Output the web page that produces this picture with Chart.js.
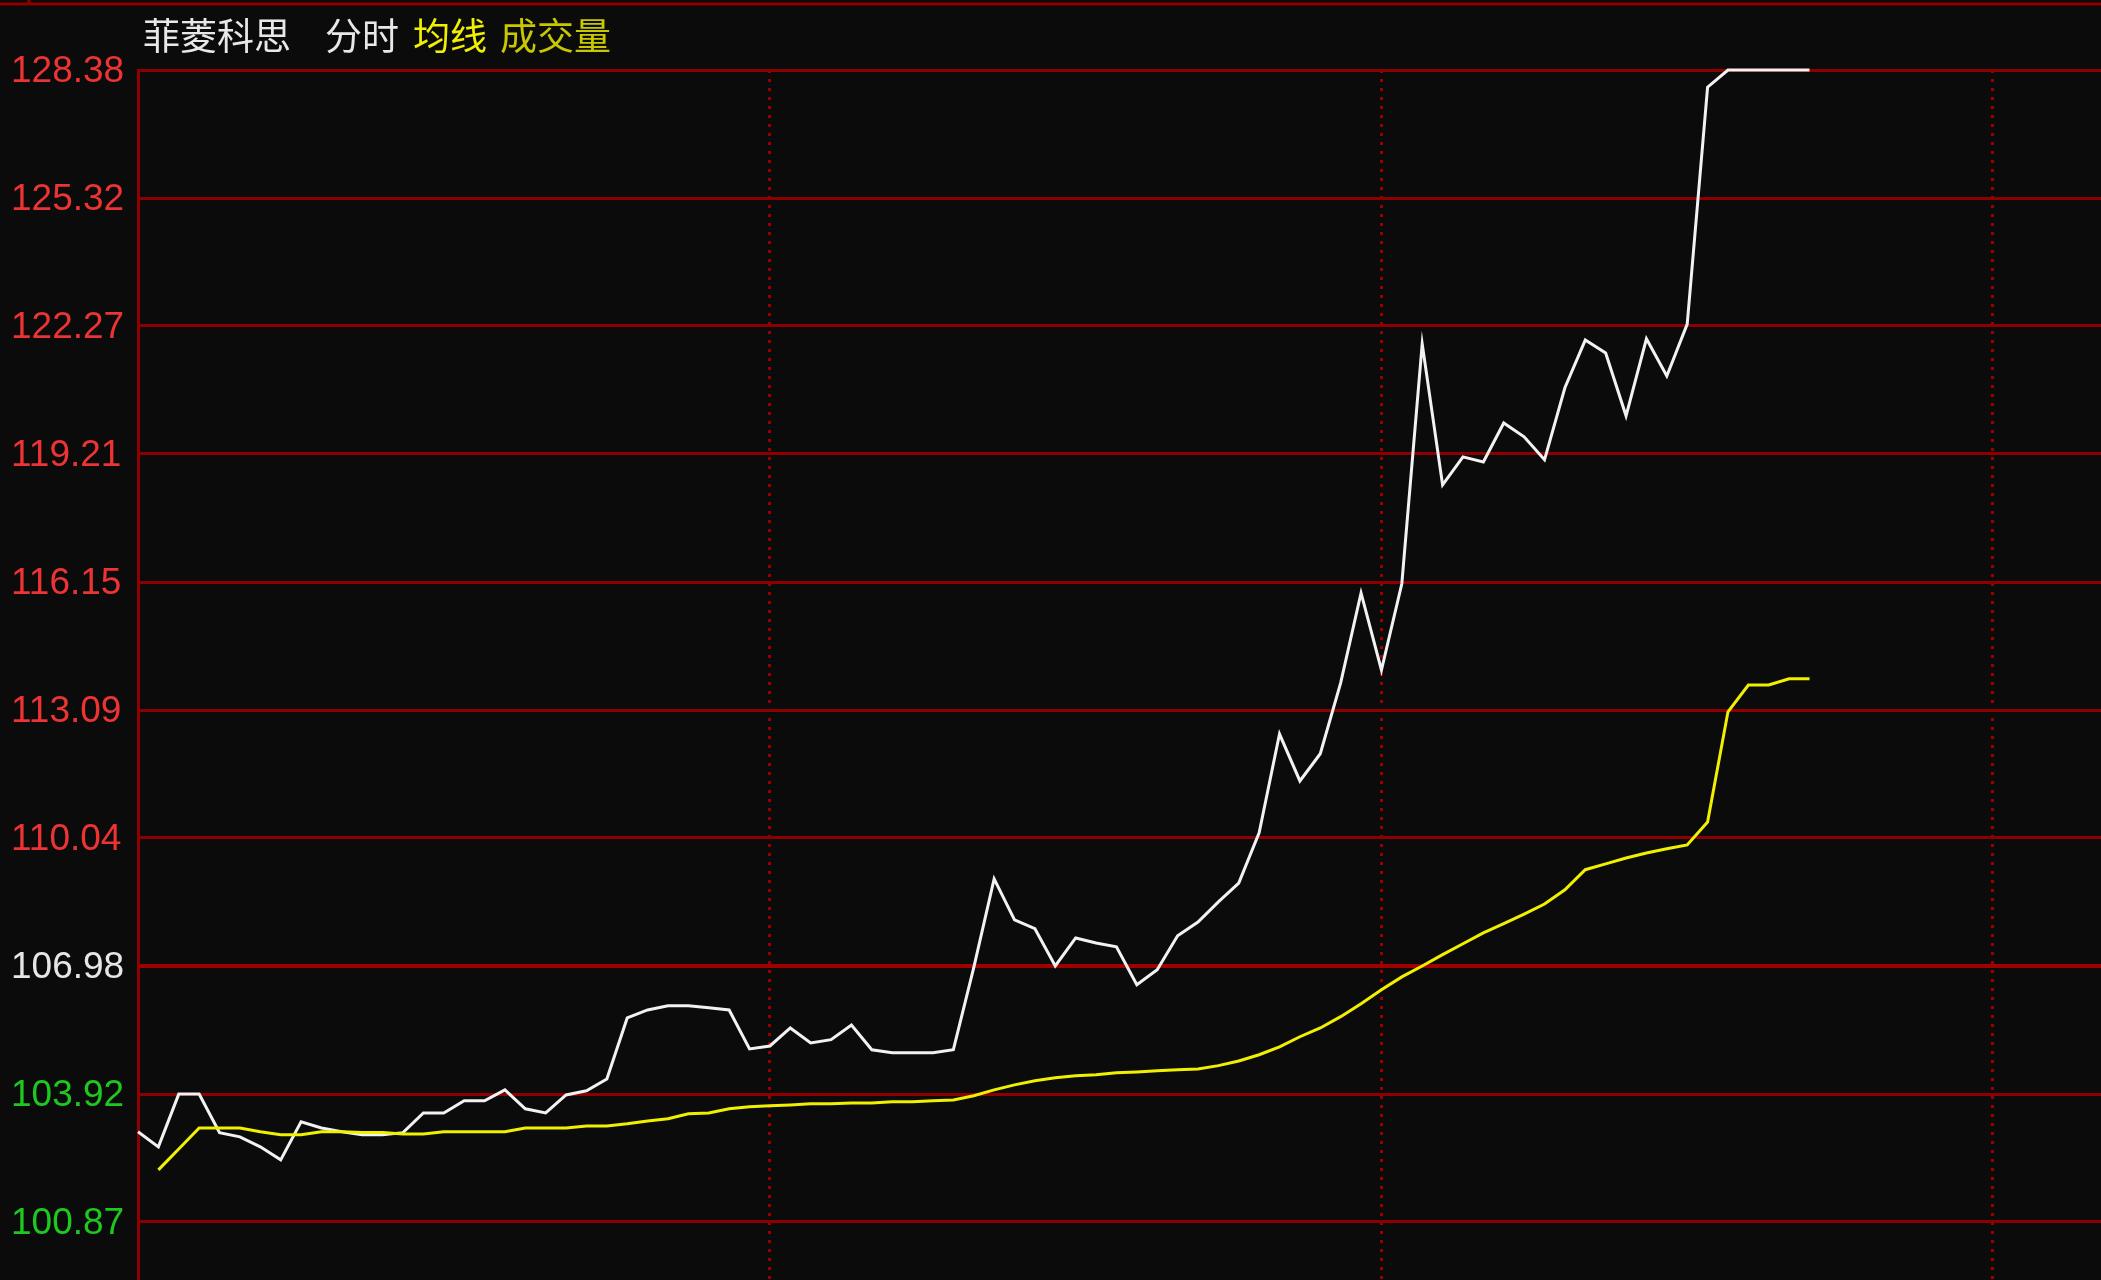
<!DOCTYPE html>
<html>
<head>
<meta charset="utf-8">
<script src="https://cdn.jsdelivr.net/npm/chart.js"></script>
<style>
  html, body { margin: 0; padding: 0; background: #0b0b0b; overflow: hidden; }
  canvas { display: block; }
</style>
</head>
<body>
<canvas id="grafico-fenshi" width="2101" height="1280"></canvas>
<script>
// prezzo minuto per minuto (linea bianca)
var priceSeries = [103.02, 102.66, 103.92, 103.92, 103.00, 102.90, 102.66, 102.35, 103.26, 103.11,
  103.02, 102.95, 102.95, 103.00, 103.47, 103.47, 103.76, 103.76, 104.02, 103.57,
  103.47, 103.90, 104.00, 104.28, 105.74, 105.93, 106.03, 106.03, 105.98, 105.93,
  105.00, 105.07, 105.50, 105.14, 105.22, 105.57, 104.98, 104.91, 104.91, 104.91,
  104.98, 106.94, 109.06, 108.08, 107.87, 106.98, 107.65, 107.53, 107.44, 106.53,
  106.89, 107.70, 108.03, 108.51, 108.96, 110.16, 112.52, 111.40, 112.05, 113.74,
  115.89, 114.05, 116.11, 121.84, 118.47, 119.14, 119.02, 119.95, 119.62, 119.07,
  120.79, 121.93, 121.62, 120.12, 121.96, 121.07, 122.31, 127.97, 128.38, 128.38,
  128.38, 128.38, 128.38];

// prezzo medio (linea gialla)
var avgSeries = [null, 102.11, 102.61, 103.11, 103.11, 103.11, 103.02, 102.95, 102.95, 103.02,
  103.02, 103.00, 103.00, 102.97, 102.97, 103.02, 103.02, 103.02, 103.02, 103.11,
  103.11, 103.11, 103.16, 103.16, 103.21, 103.28, 103.33, 103.45, 103.47, 103.57,
  103.62, 103.64, 103.66, 103.69, 103.69, 103.71, 103.71, 103.74, 103.74, 103.76,
  103.78, 103.88, 104.02, 104.14, 104.24, 104.31, 104.36, 104.38, 104.43, 104.45,
  104.48, 104.50, 104.52, 104.60, 104.71, 104.86, 105.05, 105.29, 105.50, 105.77,
  106.08, 106.41, 106.72, 106.98, 107.25, 107.51, 107.77, 107.99, 108.22, 108.46,
  108.80, 109.28, 109.42, 109.56, 109.68, 109.78, 109.87, 110.42, 113.05, 113.69,
  113.69, 113.84, 113.84];

var yTickValues = [128.38, 125.32, 122.27, 119.21, 116.15, 113.09, 110.04, 106.98, 103.92, 100.87];
var yTickLabels = ['128.38', '125.32', '122.27', '119.21', '116.15', '113.09', '110.04', '106.98', '103.92', '100.87'];
var prevClose = 106.98;
var xGridTicks = [31, 61, 91];

var titleParts = ['菲菱科思', '分时', '均线', '成交量'];

var rosso = '#8e0000';

var sfondo = {
  id: 'sfondo',
  beforeDraw: function (chart) {
    var ctx = chart.ctx;
    ctx.save();
    ctx.fillStyle = '#0b0b0b';
    ctx.fillRect(0, 0, chart.width, chart.height);
    ctx.strokeStyle = rosso;
    ctx.lineWidth = 3;
    ctx.beginPath();
    ctx.moveTo(0, 4);
    ctx.lineTo(chart.width, 4);
    ctx.moveTo(29, 0);
    ctx.lineTo(29, 4);
    ctx.stroke();
    ctx.restore();
  },
  afterDraw: function (chart) {
    // intestazione in alto
    var ctx = chart.ctx;
    ctx.save();
    ctx.font = '37px "Noto Sans CJK SC"';
    ctx.textBaseline = 'middle';
    var xs = [143, 325, 413, 500];
    var colori = ['#e8e8e8', '#e8e8e8', '#f0f000', '#c8c800'];
    for (var i = 0; i < titleParts.length; i++) {
      ctx.fillStyle = colori[i];
      ctx.fillText(titleParts[i], xs[i], 36);
    }
    ctx.restore();
  }
};

var myChart = new Chart(document.getElementById('grafico-fenshi'), {
  type: 'line',
  data: {
    datasets: [{
      label: '均线',
      data: avgSeries.map(function (v, i) { return { x: i, y: v }; }),
      borderColor: '#f0f000',
      borderWidth: 3,
      pointRadius: 0,
      tension: 0,
      clip: 4
    }, {
      label: '分时',
      data: priceSeries.map(function (v, i) { return { x: i, y: v }; }),
      borderColor: '#f2f2f2',
      borderWidth: 3,
      pointRadius: 0,
      tension: 0,
      clip: 4
    }]
  },
  options: {
    responsive: false,
    devicePixelRatio: 1,
    animation: false,
    layout: { padding: { top: 70, left: 11, right: 0, bottom: 0 } },
    plugins: {
      legend: { display: false },
      tooltip: { enabled: false }
    },
    scales: {
      x: {
        type: 'linear',
        min: 0,
        max: 96.3,
        afterBuildTicks: function (scale) {
          scale.ticks = xGridTicks.map(function (v) { return { value: v }; });
        },
        afterFit: function (scale) {
          scale.height = 0;
          scale.paddingLeft = 0;
          scale.paddingRight = 0;
        },
        ticks: { display: false },
        grid: { color: '#9a0000', lineWidth: 3, drawTicks: false },
        border: { display: false, dash: [3, 6] }
      },
      y: {
        min: 99.48,
        max: 128.38,
        afterBuildTicks: function (scale) {
          scale.ticks = yTickValues.map(function (v) { return { value: v }; });
        },
        afterFit: function (scale) {
          scale.width = 127;
          scale.paddingTop = 0;
          scale.paddingBottom = 0;
        },
        ticks: {
          autoSkip: false,
          crossAlign: 'far',
          padding: 0,
          labelOffset: 2,
          font: { family: '"Liberation Sans", Arial', size: 37 },
          color: function (c) {
            var v = c.tick.value;
            if (v > prevClose) return '#ec3434';
            if (v < prevClose) return '#1ec81e';
            return '#e6e6e6';
          },
          callback: function (value, index) { return yTickLabels[index]; }
        },
        grid: {
          drawTicks: false,
          color: function (c) { return c.tick && c.tick.value === prevClose ? '#a00000' : rosso; },
          lineWidth: function (c) { return c.tick && c.tick.value === prevClose ? 4 : 3; }
        },
        border: { display: true, color: rosso, width: 3 }
      }
    }
  },
  plugins: [sfondo]
});
</script>
</body>
</html>
